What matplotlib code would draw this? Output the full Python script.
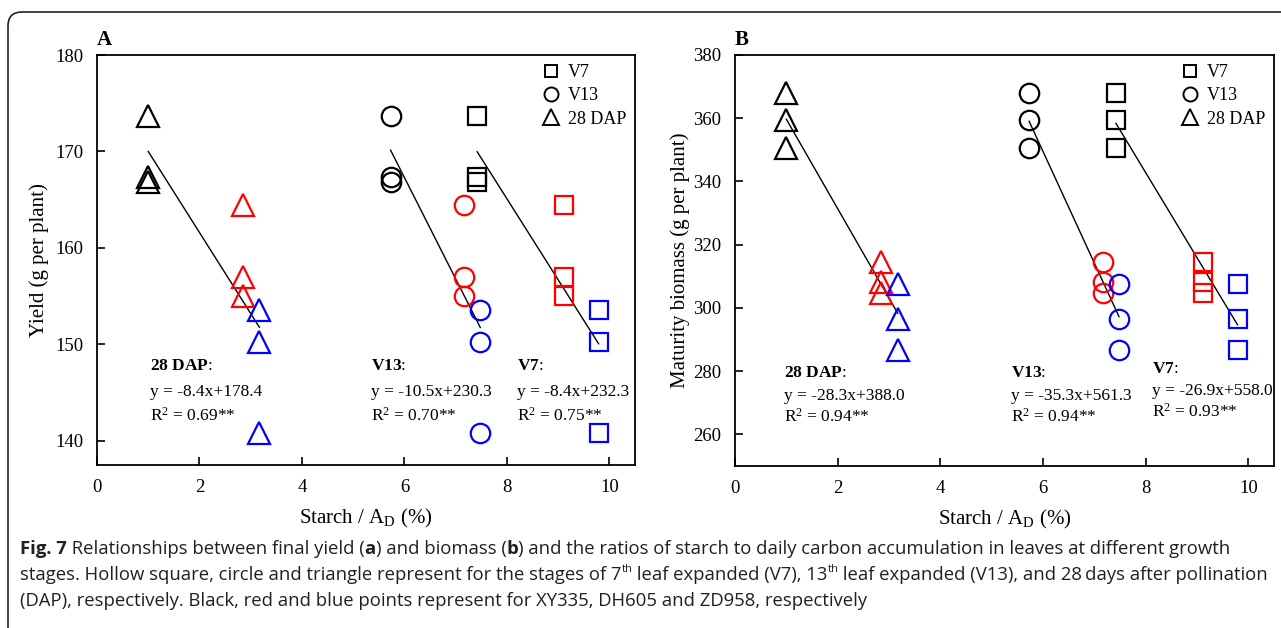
import matplotlib
matplotlib.use("Agg")
import matplotlib.pyplot as plt
from matplotlib.lines import Line2D
from matplotlib.patches import FancyBboxPatch
from matplotlib.transforms import IdentityTransform

# ---------------- data ----------------
genotypes = ["XY335", "DH605", "ZD958"]
colors = ["#000000", "#ff0000", "#0000ff"]

# Starch / A_D (%) per genotype at each stage
x_v7 = [7.42, 9.12, 9.79]
x_v13 = [5.73, 7.17, 7.48]
x_dap = [1.00, 2.84, 3.17]

# final yield (g per plant), three values per genotype
yield_vals = [[173.7, 167.4, 166.8],
              [164.5, 157.0, 155.0],
              [153.6, 150.2, 140.8]]
# maturity biomass (g per plant)
biomass_vals = [[368.0, 359.3, 350.6],
                [314.5, 308.3, 304.6],
                [307.5, 296.5, 286.8]]

stages = ["V7", "V13", "28 DAP"]
stage_x = [x_v7, x_v13, x_dap]
stage_markers = ["s", "o", "^"]
stage_msize = [12.5, 14.0, 15.5]

# regression coefficients (slope, intercept) per stage
yield_fit = {"V7": (-8.4, 232.3), "V13": (-10.5, 230.3), "28 DAP": (-8.4, 178.4)}
biomass_fit = {"V7": (-26.9, 558.0), "V13": (-35.3, 561.3), "28 DAP": (-28.3, 388.0)}

yield_ann = {"28 DAP": ("y = -8.4x+178.4", "0.69**"),
             "V13": ("y = -10.5x+230.3", "0.70**"),
             "V7": ("y = -8.4x+232.3", "0.75**")}
biomass_ann = {"28 DAP": ("y = -28.3x+388.0", "0.94**"),
               "V13": ("y = -35.3x+561.3", "0.94**"),
               "V7": ("y = -26.9x+558.0", "0.93**")}

yield_ticks = [140, 150, 160, 170, 180]
biomass_ticks = [260, 280, 300, 320, 340, 360, 380]
x_ticks = [0, 2, 4, 6, 8, 10]

# ---------------- style ----------------
SERIF = ["Liberation Serif", "DejaVu Serif"]
plt.rcParams["font.family"] = SERIF
plt.rcParams["mathtext.fontset"] = "custom"
plt.rcParams["mathtext.rm"] = "Liberation Serif"
plt.rcParams["mathtext.bf"] = "Liberation Serif:bold"
plt.rcParams["mathtext.it"] = "Liberation Serif:italic"

W, H = 1281, 628
fig = plt.figure(figsize=(W / 100, H / 100), dpi=100)
fig.patch.set_facecolor("white")

# rounded frame around the figure (cut off at right / bottom)
frame = FancyBboxPatch((8, -40), 1330, 656, boxstyle="round,pad=0,rounding_size=14",
                       transform=IdentityTransform(), facecolor="none",
                       edgecolor="#222222", linewidth=1.2)
fig.patches.append(frame)


def px_axes(left, right, top, bottom):
    return fig.add_axes([left / W, (H - bottom) / H, (right - left) / W, (bottom - top) / H])


def draw_panel(ax, vals, fits, anns, ylim, yticks, ylabel, letter, ann_pos, ylpad):
    for si, st in enumerate(stages):
        xs = stage_x[si]
        for gi in range(3):
            ax.plot([xs[gi]] * len(vals[gi]), vals[gi], linestyle="none",
                    marker=stage_markers[si], markersize=stage_msize[si],
                    markerfacecolor="none", markeredgecolor=colors[gi],
                    markeredgewidth=1.6, zorder=3)
        m, b = fits[st]
        x0, x1 = min(xs), max(xs)
        ax.plot([x0, x1], [m * x0 + b, m * x1 + b], color="black", lw=1.0, zorder=2)
        eq, r2 = anns[st]
        tx, ty, dy = ann_pos[st]
        lab = st.replace(" ", r"\ ")
        ax.text(tx, ty, r"$\mathbf{" + lab + "}$:", fontsize=12.5, ha="left", va="baseline")
        ax.text(tx, ty - dy, eq, fontsize=12.5, ha="left", va="baseline")
        ax.text(tx, ty - 2 * dy, r"R$^{2}$ = " + r2, fontsize=12.5, ha="left", va="baseline")

    ax.set_xlim(0, 10.5)
    ax.set_ylim(*ylim)
    ax.set_xticks(x_ticks)
    ax.set_xticklabels([str(v) for v in x_ticks], family=SERIF)
    ax.set_yticks(yticks)
    ax.set_yticklabels([str(v) for v in yticks], family=SERIF)
    ax.tick_params(direction="in", length=6, width=1.2, labelsize=13.5,
                   top=False, right=False, pad=10)
    for sp in ax.spines.values():
        sp.set_linewidth(1.3)
    ax.set_xlabel(r"Starch / A$_{\mathrm{D}}$ (%)", fontsize=15, labelpad=8)
    ax.set_ylabel(ylabel, fontsize=15, labelpad=ylpad)
    ax.text(0.0, 1.012, letter, transform=ax.transAxes, fontsize=15, fontweight="bold",
            ha="left", va="bottom")

    handles = [Line2D([], [], linestyle="none", marker=mk, markersize=ms * 0.72,
                      markerfacecolor="none", markeredgecolor="black", markeredgewidth=1.4)
               for mk, ms in zip(stage_markers, stage_msize)]
    ax.legend(handles, stages, loc="upper right", bbox_to_anchor=(1.0, 1.0), frameon=False,
              fontsize=13, handletextpad=0.2, labelspacing=0.35, borderpad=0.3,
              handlelength=1.4, borderaxespad=0.2)


axA = px_axes(97, 635, 55, 465)
draw_panel(axA, yield_vals, yield_fit, yield_ann, (137.5, 180), yield_ticks,
           "Yield (g per plant)", "A",
           {"28 DAP": (1.03, 147.3, 2.6), "V13": (5.35, 147.3, 2.6), "V7": (8.2, 147.3, 2.6)}, 4)

axB = px_axes(735, 1274, 55, 466)
draw_panel(axB, biomass_vals, biomass_fit, biomass_ann, (250, 380), biomass_ticks,
           "Maturity biomass (g per plant)", "B",
           {"28 DAP": (0.96, 278.0, 7.0), "V13": (5.37, 278.0, 7.0), "V7": (8.13, 279.5, 7.0)}, 2)

# ---------------- caption ----------------
cap_font = ["Open Sans", "DejaVu Sans"]
cap_size = 13.3
caption_lines = [
    [("Fig. 7", "bold", False), (" Relationships between final yield (", "normal", False),
     ("a", "bold", False), (") and biomass (", "normal", False), ("b", "bold", False),
     (") and the ratios of starch to daily carbon accumulation in leaves at different growth", "normal", False)],
    [("stages. Hollow square, circle and triangle represent for the stages of 7", "normal", False),
     ("th", "normal", True), (" leaf expanded (V7), 13", "normal", False), ("th", "normal", True),
     (" leaf expanded (V13), and 28\u2009days after pollination", "normal", False)],
    [("(DAP), respectively. Black, red and blue points represent for XY335, DH605 and ZD958, respectively",
      "normal", False)],
]
line_y = [554, 580, 606]
fig.canvas.draw()
renderer = fig.canvas.get_renderer()
for segs, yy in zip(caption_lines, line_y):
    x = 20.0
    for txt, wt, sup in segs:
        size = cap_size * 0.6 if sup else cap_size
        ypos = yy - 8 if sup else yy
        t = fig.text(x / W, (H - ypos) / H, txt, fontsize=size, fontweight=wt,
                     family=cap_font, ha="left", va="baseline", color="#231f20")
        bb = t.get_window_extent(renderer=renderer)
        x += bb.width

fig.savefig("out.png", dpi=100)
